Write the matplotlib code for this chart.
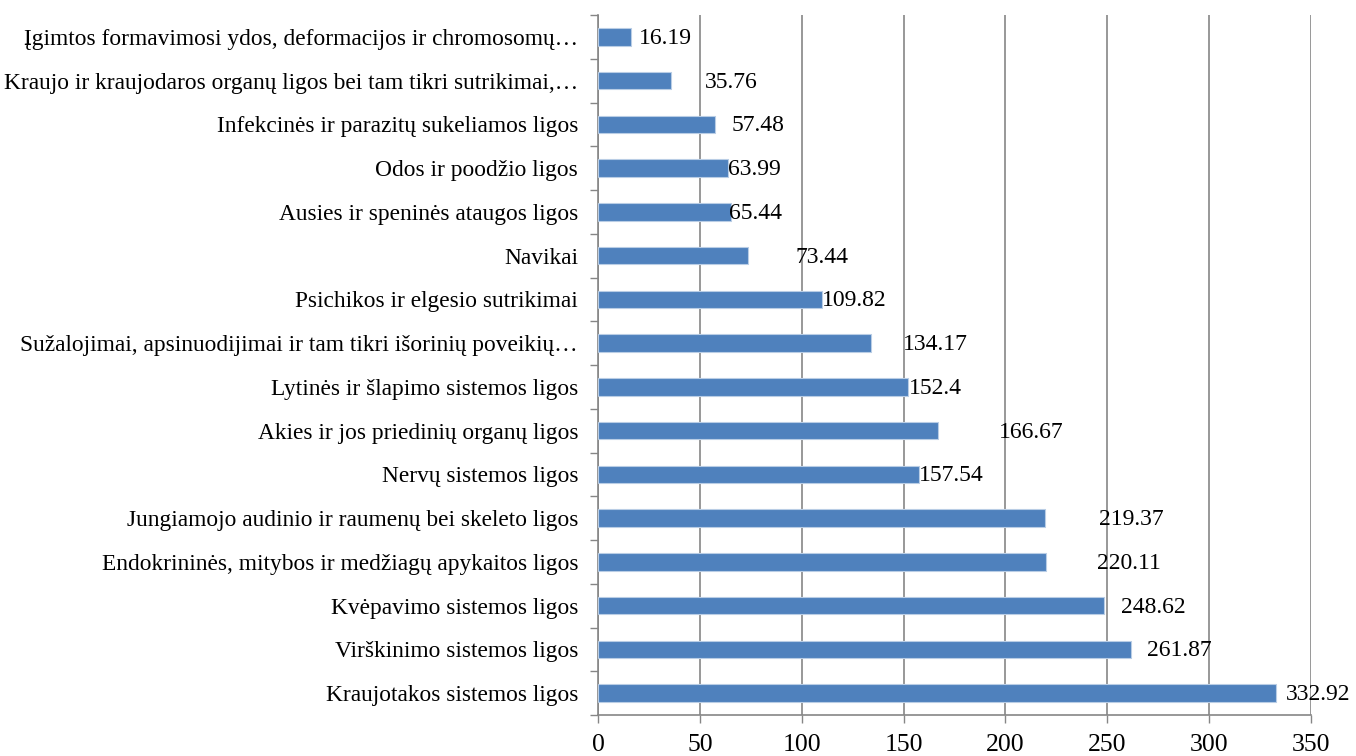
import matplotlib
matplotlib.use('Agg')
import matplotlib.pyplot as plt
import numpy as np

# Categories listed bottom to top (as drawn)
categories = [
    'Kraujotakos sistemos ligos',
    'Virškinimo sistemos ligos',
    'Kvėpavimo sistemos ligos',
    'Endokrininės, mitybos ir medžiagų apykaitos ligos',
    'Jungiamojo audinio ir raumenų bei skeleto ligos',
    'Nervų sistemos ligos',
    'Akies ir jos priedinių organų ligos',
    'Lytinės ir šlapimo sistemos ligos',
    'Sužalojimai, apsinuodijimai ir tam tikri išorinių poveikių…',
    'Psichikos ir elgesio sutrikimai',
    'Navikai',
    'Ausies ir speninės ataugos ligos',
    'Odos ir poodžio ligos',
    'Infekcinės ir parazitų sukeliamos ligos',
    'Kraujo ir kraujodaros organų ligos bei tam tikri sutrikimai,…',
    'Įgimtos formavimosi ydos, deformacijos ir chromosomų…',
]
values = [332.92, 261.87, 248.62, 220.11, 219.37, 157.54, 166.67, 152.4,
          134.17, 109.82, 73.44, 65.44, 63.99, 57.48, 35.76, 16.19]
value_labels = ['332.92', '261.87', '248.62', '220.11', '219.37', '157.54',
                '166.67', '152.4', '134.17', '109.82', '73.44', '65.44',
                '63.99', '57.48', '35.76', '16.19']
x_ticks = [0, 50, 100, 150, 200, 250, 300, 350]

# label offsets from bar end (pixels), mimicking the original's placement
label_offsets_px = [10, 16, 17, 51, 54, 0, 61, 0, 32, 0, 48, -2, 0, 16, 34, 8]

plt.rcParams['font.family'] = ['Liberation Serif', 'DejaVu Serif']

fig = plt.figure(figsize=(13.56, 7.56), dpi=100)
ax = fig.add_axes([598 / 1356, 1 - 715 / 756, (1311 - 598) / 1356, 700 / 756])

y = np.arange(len(categories))
ax.barh(y, values, height=0.4, color='#4F81BD', edgecolor='#B9CDE5',
        linewidth=0.8, zorder=3)

for yi, v, lab, off in zip(y, values, value_labels, label_offsets_px):
    ax.annotate(lab, (v, yi), xytext=(off * 0.72, -1), textcoords='offset points',
                ha='left', va='center', fontsize=17, color='black', zorder=4)

ax.set_xlim(0, 350)
ax.set_ylim(-0.5, len(categories) - 0.5)
ax.set_xticks(x_ticks)
ax.set_xticklabels([str(t) for t in x_ticks], fontsize=18.5)

ax.set_yticks(y)
ax.set_yticklabels(categories, fontsize=16.8)
ax.set_yticks(np.arange(len(categories) + 1) - 0.5, minor=True)
ax.tick_params(axis='y', which='major', length=0, pad=14.4)
ax.tick_params(axis='y', which='minor', length=6, color='#868686', width=1)
ax.tick_params(axis='x', length=6, color='#868686', width=1, pad=8)

ax.grid(axis='x', color='#868686', linewidth=1.2, zorder=0)
ax.set_axisbelow(True)
for s in ['top', 'right']:
    ax.spines[s].set_visible(False)
for s in ['left', 'bottom']:
    ax.spines[s].set_color('#868686')
    ax.spines[s].set_linewidth(1.2)

fig.savefig('out.png', dpi=100)
